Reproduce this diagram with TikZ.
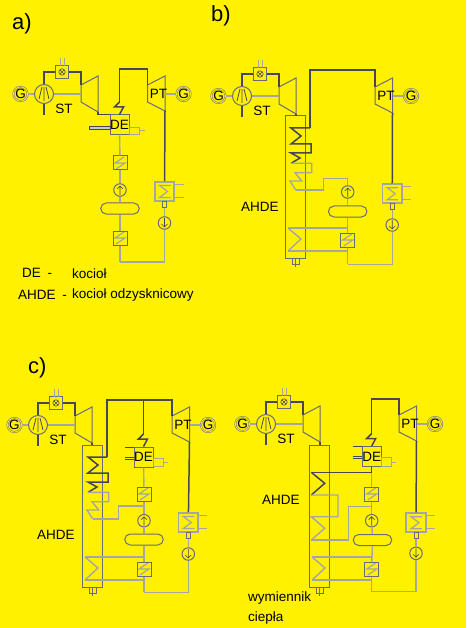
\documentclass[tikz,border=0pt]{standalone}
\usepackage{fontspec}
\setmainfont{Liberation Sans}
\definecolor{plantYellow}{RGB}{255, 241, 0}
\definecolor{pipeGray}{RGB}{165, 165, 165}
\definecolor{steamDark}{RGB}{70, 70, 85}
\usetikzlibrary{shapes.misc, calc}
\tikzset{
  water/.style={draw=pipeGray, line width=1.4pt},
  steam/.style={draw=steamDark, line width=1.5pt},
  shell/.style={draw=steamDark!80, line width=1pt},
  label/.style={font=\fontsize{13.5}{15}\selectfont, inner sep=0pt, anchor=west},
  title/.style={font=\fontsize{22}{24}\selectfont, inner sep=0pt, anchor=west},
  genbox/.style={circle, draw=steamDark!70, line width=0.6pt, double=plantYellow, double distance=0.8pt, minimum size=13pt, inner sep=0pt, font=\fontsize{13.5}{13.5}\selectfont},
  compbox/.style={circle, shell, minimum size=19pt, inner sep=0pt, path picture={
      \draw[steamDark, line width=0.8pt, shift={(path picture bounding box.center)}]
        (-5,5) -- (-2,-7) (0,-7) -- (0,7) (5,5) -- (2,-7);}},
  valvebox/.style={rectangle, shell, minimum size=12.5pt, inner sep=0pt, path picture={
      \draw[steamDark, line width=0.6pt, shift={(path picture bounding box.center)}]
        (0,0) circle (3.2) (-2.2,-2.2) -- (2.2,2.2) (-2.2,2.2) -- (2.2,-2.2);}},
  heatbox/.style={rectangle, shell, minimum size=14pt, inner sep=0pt, path picture={
      \draw[pipeGray, line width=1.2pt, shift={(path picture bounding box.center)}]
        (4,-6) -- (-5,0) -- (5,0) -- (-4,6);}},
  condbox/.style={rectangle, water, line width=1.6pt, minimum width=19.5pt, minimum height=19pt, inner sep=0pt, path picture={
      \draw[pipeGray, line width=1.2pt, shift={(path picture bounding box.center)}]
        (6,-6) -- (-5,-6) -- (3,0) -- (-5,6) -- (6,6);}},
  pumpup/.style={circle, shell, minimum size=12.5pt, inner sep=0pt, path picture={
      \draw[steamDark, line width=0.6pt, shift={(path picture bounding box.center)}]
        (0,5) -- (0,-4) (-3,-1) -- (0,-4) -- (3,-1);}},
  pumpdown/.style={circle, shell, minimum size=12.5pt, inner sep=0pt, path picture={
      \draw[steamDark, line width=0.6pt, shift={(path picture bounding box.center)}]
        (0,-5) -- (0,4) (-3,1) -- (0,4) -- (3,1);}},
  drumbox/.style={rounded rectangle, shell, minimum width=38.5pt, minimum height=11pt, inner sep=0pt},
  debox/.style={rectangle, shell, minimum width=19pt, minimum height=20pt, inner sep=0pt, font=\fontsize{13.5}{14}\selectfont},
  stgroup/.pic={
    \node[compbox] (-comp) at (0,0) {};
    \node[genbox] (-gen) at (-23.5,0) {G};
    \node[valvebox] (-valve) at (18,-22) {};
    \node[inner sep=0pt, font=\fontsize{13.5}{14}\selectfont] (-name) at (20,15) {ST};
    \draw[shell] (37,-9) -- (54,-18) -- (54,18) -- (37,8) -- cycle;
    \coordinate (-in) at (37,-9);
    \coordinate (-shaft) at (37,0);
    \coordinate (-out) at (54,18);
    \coordinate (-foot) at (0,21);
    \coordinate (-s1) at (16,-36);
    \coordinate (-s2) at (20,-36);
    \draw[water] (-gen) -- (-comp);
    \draw[water] (-comp) -- (-shaft);
    \draw[steam] (-comp) -- (-foot);
    \draw[steam] (-comp) |- (-valve);
    \draw[steam] (-valve) -| (-in);
    \draw[water, line width=0.8pt] (-s1) -- (16,-28) (-s2) -- (20,-28);
  },
  ptgroup/.pic={
    \draw[shell] (0,-9) -- (17.5,-18) -- (17.5,17) -- (0,8) -- cycle;
    \coordinate (-in) at (0,-9);
    \coordinate (-out) at (17.5,17);
    \node[inner sep=0pt, font=\fontsize{13.5}{14}\selectfont] (-name) at (11,0) {PT};
    \node[genbox] (-gen) at (36,0) {G};
    \draw[water] (17.5,0) -- (-gen);
  },
  condgroup/.pic={
    \node[condbox] (-box) at (0,0) {};
    \node[rectangle, shell, minimum width=4pt, minimum height=6pt, inner sep=0pt] (-foot) at (0,13) {};
    \draw[water, line width=0.9pt] (10,-7) -- (19,-7) (10,6) -- (19,6);
  },
  degroup/.pic={
    \node[debox] (-box) at (0,0) {DE};
    \coordinate (-top) at (0,-23);
    \draw[steam] (-top) -- (-5,-18) -- (4,-18) -- (-box.north);
  },
  fuelplain/.pic={
    \draw[steamDark, fill=pipeGray!60, line width=0.6pt] (-30,1) rectangle (-9.5,4.5);
    \draw[water, line width=1pt] (9.5,3) rectangle (20,10) (20,6) -- (25,6);
  },
  fuelduct/.pic={
    \draw[steamDark, line width=0.7pt] (-19,-10) -- (-9.5,-10) (-19,0) -- (-9.5,0) (-19,2.3) -- (-9.5,2.3);
    \draw[water, line width=1pt] (9.5,1.3) rectangle (20,9.7) (20,5.7) -- (24,5.7);
  },
  hrsgshell/.pic={
    \draw[shell] (0,0) rectangle (20,142);
    \node[rectangle, shell, minimum width=7pt, minimum height=6pt, inner sep=0pt] (-foot) at (10.5,145) {};
    \draw[shell, line width=0.6pt] (10.5,142) -- (10.5,151);
    \coordinate (-lo-in) at (3,112);
    \coordinate (-lo-out) at (3,135);
    \draw[water] (-lo-in) -- (16,123) -- (-lo-out);
  },
  hrsgtall/.pic={
    \pic (-) at (0,0) {hrsgshell};
    \coordinate (-steam) at (25,12);
    \coordinate (-eco) at (10.7,74);
    \coordinate (-lo-in) at (3,112);
    \coordinate (-lo-out) at (3,135);
    \draw[steam] (-steam) -- (6,12) -- (16,20) -- (6,28) -- (26,28) -- (26,37) -- (6,37) -- (15,42) -- (6,47.3);
    \draw[water] (6,47.3) -- (26.7,47.3) -- (26.7,56.7) -- (10,56.7) -- (16.7,65) -- (5,65) -- (-eco);
  },
  hrsgshort/.pic={
    \pic (-) at (0,0) {hrsgshell};
    \coordinate (-steam) at (2.3,27.3);
    \coordinate (-eco) at (2.3,95);
    \coordinate (-lo-in) at (3,112);
    \coordinate (-lo-out) at (3,135);
    \draw[steam] (-steam) -- (15.7,38.3) -- (2.3,50);
    \draw[water] (2.3,50) -- (29,50) -- (29,71.7) -- (2.3,71.7) -- (15.7,83.3) -- (-eco);
  },
}
\begin{document}
\begin{tikzpicture}[x=1pt, y=-1pt]
  \fill[plantYellow] (0,0) rectangle (466,628);
  \useasboundingbox (0,0) rectangle (466,628);

  \node[title] (a-title) at (12,24) {a)};
  \node[title] (b-title) at (211,16) {b)};
  \node[title] (c-title) at (28,368) {c)};

  \pic (a-st) at (44,94) {stgroup};
  \pic (a-pt) at (147.5,94) {ptgroup};
  \pic (a-de) at (119.5,125) {degroup};
  \pic (a-fuel) at (119.5,125) {fuelplain};
  \pic (a-cond) at (164.5,191.5) {condgroup};
  \node[heatbox] (a-hs1) at (120,163) {};
  \node[pumpup] (a-fw) at (120,190) {};
  \node[drumbox] (a-drum) at (120,208.5) {};
  \node[heatbox] (a-hs2) at (120,238) {};
  \node[pumpdown] (a-cp) at (164.5,223) {};
  \coordinate (a-hdr) at (147.5,69);
  \coordinate (a-rb) at (120,262);
  \draw[steam] (a-st-out) |- (a-de-box.north west);
  \draw[steam] (a-de-top) |- (a-hdr) -- (a-pt-in);
  \draw[steam] (a-pt-out) -- (a-cond-box);
  \draw[water] (a-de-box) -- (a-hs1);
  \draw[water] (a-hs1) -- (a-fw);
  \draw[water] (a-fw) -- (a-drum);
  \draw[water] (a-drum) -- (a-hs2);
  \draw[water] (a-hs2) -- (a-rb);
  \draw[water] (a-rb) -| (a-cp);
  \draw[water] (a-cp) -- (a-cond-foot);

  \node[label] (k-de) at (22,272.5) {DE\enspace-};
  \node[label] (k-de-text) at (72,274) {kocioł};
  \node[label] (k-ahde) at (18,295) {AHDE\enspace-};
  \node[label] (k-ahde-text) at (72,295) {kocioł odzysknicowy};

  \pic (b-st) at (242,96) {stgroup};
  \pic (b-pt) at (375,96) {ptgroup};
  \pic (b-hrsg) at (285,116) {hrsgtall};
  \pic (b-cond) at (392.2,193.7) {condgroup};
  \node[pumpup] (b-fw) at (347.7,192) {};
  \node[drumbox] (b-drum) at (347.7,211.5) {};
  \node[heatbox] (b-hs) at (347.7,240) {};
  \node[pumpdown] (b-cp) at (392.2,225) {};
  \node[label] (b-ahde) at (241,207) {AHDE};
  \coordinate (b-hdr) at (310,70);
  \coordinate (b-riser) at (323.3,178.3);
  \coordinate (b-rb) at (347.7,264.3);
  \draw[steam] (b-st-out) -- ++(0,2);
  \draw[steam] (b-hrsg-steam) |- (b-hdr) -| (b-pt-in);
  \draw[steam] (b-pt-out) -- (b-cond-box);
  \draw[water] (b-hrsg-eco) -| (b-riser) -| (b-fw);
  \draw[water] (b-fw) -- (b-drum);
  \draw[water] (b-drum) -- (b-hs);
  \draw[water] (b-hrsg-lo-in) -| (b-hs);
  \draw[water] (b-hrsg-lo-out) -| (b-rb);
  \draw[water] (b-hs) -- (b-rb);
  \draw[water] (b-rb) -| (b-cp);
  \draw[water] (b-cp) -- (b-cond-foot);

  \pic (c-st) at (38,425) {stgroup};
  \pic (c-pt) at (172,425) {ptgroup};
  \pic (c-hrsg) at (82,445) {hrsgtall};
  \pic (c-de) at (143.5,457) {degroup};
  \pic (c-fuel) at (143.5,457) {fuelduct};
  \pic (c-cond) at (188.3,522.5) {condgroup};
  \node[heatbox] (c-hs1) at (144,494) {};
  \node[pumpup] (c-fw) at (144,520.7) {};
  \node[drumbox] (c-drum) at (144,539.5) {};
  \node[heatbox] (c-hs2) at (144,569) {};
  \node[pumpdown] (c-cp) at (188.3,554) {};
  \node[label] (c-ahde) at (37,535) {AHDE};
  \coordinate (c-hdr) at (107,400);
  \coordinate (c-tee) at (143.5,400);
  \coordinate (c-riser) at (118.3,506);
  \coordinate (c-joint) at (144,506);
  \coordinate (c-rb) at (144,592.3);
  \draw[steam] (c-st-out) -- ++(0,2);
  \draw[steam] (c-hrsg-steam) |- (c-hdr) -| (c-pt-in);
  \draw[steam] (c-tee) -- (c-de-top);
  \draw[steam] (c-pt-out) -- (c-cond-box);
  \draw[water] (c-de-box) -- (c-hs1);
  \draw[water] (c-hs1) -- (c-fw);
  \draw[water] (c-hrsg-eco) -| (c-riser) -- (c-joint);
  \draw[water] (c-fw) -- (c-drum);
  \draw[water] (c-drum) -- (c-hs2);
  \draw[water] (c-hrsg-lo-in) -| (c-hs2);
  \draw[water] (c-hrsg-lo-out) -| (c-rb);
  \draw[water] (c-hs2) -- (c-rb);
  \draw[water] (c-rb) -| (c-cp);
  \draw[water] (c-cp) -- (c-cond-foot);

  \pic (d-st) at (266,424) {stgroup};
  \pic (d-pt) at (399,424) {ptgroup};
  \pic (d-hrsg) at (309,445) {hrsgshort};
  \pic (d-de) at (371.7,456.5) {degroup};
  \pic (d-fuel) at (371.7,456.5) {fuelduct};
  \pic (d-cond) at (416,522.7) {condgroup};
  \node[heatbox] (d-hs1) at (371.7,494) {};
  \node[pumpup] (d-fw) at (371.7,520.7) {};
  \node[drumbox] (d-drum) at (372.5,540) {};
  \node[heatbox] (d-hs2) at (371.7,569) {};
  \node[pumpdown] (d-cp) at (416,553.3) {};
  \node[label] (d-ahde) at (262,500) {AHDE};
  \node[label] (d-hx1) at (248,598) {wymiennik};
  \node[label] (d-hx2) at (248,618) {ciepła};
  \coordinate (d-hdr) at (399,399);
  \coordinate (d-riser) at (348.3,506.7);
  \coordinate (d-joint) at (371.7,506.7);
  \coordinate (d-rb) at (371.7,591.7);
  \draw[water] (d-de-box) -- (d-hs1);
  \draw[steam] (d-st-out) -- ++(0,3);
  \draw[steam] (d-de-top) |- (d-hdr) -- (d-pt-in);
  \draw[steam] (d-hrsg-steam) -| (d-de-box);
  \draw[steam] (d-pt-out) -- (d-cond-box);
  \draw[water] (d-hs1) -- (d-fw);
  \draw[water] (d-hrsg-eco) -| (d-riser) -- (d-joint);
  \draw[water] (d-fw) -- (d-drum);
  \draw[water] (d-drum) -- (d-hs2);
  \draw[water] (d-hrsg-lo-in) -| (d-hs2);
  \draw[water] (d-hrsg-lo-out) -| (d-rb);
  \draw[water] (d-hs2) -- (d-rb);
  \draw[water] (d-rb) -| (d-cp);
  \draw[water] (d-cp) -- (d-cond-foot);
\end{tikzpicture}
\end{document}
